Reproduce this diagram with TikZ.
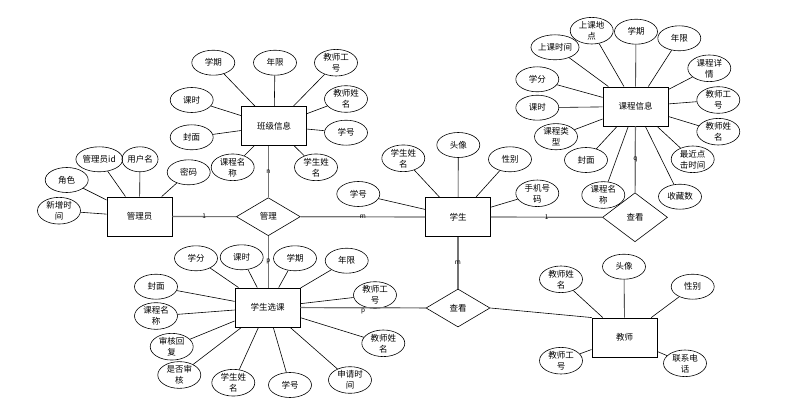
\documentclass[tikz,border=0pt]{standalone}
\usepackage{fontspec}
\setmainfont{Noto Sans CJK SC}
\usepackage{tikz}
\usetikzlibrary{shapes.geometric}
\tikzset{
  ent/.style  = {draw, line width=0.9pt, minimum width=65pt, minimum height=39pt, inner sep=0pt, font=\fontsize{8.5}{11}\selectfont},
  attr/.style = {draw, ellipse, line width=0.6pt, minimum width=43pt, minimum height=25pt, inner sep=0pt, align=center, font=\fontsize{8.5}{11}\selectfont},
  rel/.style  = {draw, diamond, line width=0.6pt, minimum width=64pt, minimum height=38pt, inner sep=0pt, font=\fontsize{8.5}{11}\selectfont},
  link/.style = {line width=0.6pt, draw=black},
  conn/.style = {line width=1.2pt, draw=black!55},
  card/.style = {font=\fontsize{6.5}{7}\selectfont, inner sep=0pt},
}
\begin{document}
\begin{tikzpicture}[x=1pt,y=-1pt]
  \useasboundingbox (0,0) rectangle (806,401);
  % entities
  \node[ent] (admin)   at (139.5,216.5) {管理员};
  \node[ent] (cls)     at (274,126)     {班级信息};
  \node[ent] (stu)     at (458,217)     {学生};
  \node[ent] (course)  at (635.5,106.5) {课程信息};
  \node[ent] (sel)     at (267.5,307.5) {学生选课};
  \node[ent] (teacher) at (624.5,337.5) {教师};
  % relations
  \node[rel] (mg)  at (268.3,216.7) {管理};
  \node[rel, minimum width=65pt, minimum height=49pt] (ck1) at (635,217.3) {查看};
  \node[rel] (ck2) at (458,308) {查看};
  % admin attributes
  \node[attr] (a-role) at (66.7,180)   {角色};
  \node[attr] (a-new)  at (59,210.7)   {新增时\\间};
  \node[attr] (a-id)   at (99.3,159.3) {管理员id};
  \node[attr, minimum width=36pt] (a-user) at (140,159.3) {用户名};
  \node[attr] (a-pwd)  at (188.7,172.3) {密码};
  % class attributes
  \node[attr] (c-term)  at (213.3,62.7) {学期};
  \node[attr] (c-years) at (275,62.7)   {年限};
  \node[attr] (c-tid)   at (336,62.7)   {教师工\\号};
  \node[attr] (c-hours) at (191.7,100)  {课时};
  \node[attr] (c-tname) at (346,99)     {教师姓\\名};
  \node[attr] (c-cover) at (191.7,137.3) {封面};
  \node[attr] (c-sid)   at (346,132.7)  {学号};
  \node[attr] (c-cname) at (232.7,167.3) {课程名\\称};
  \node[attr] (c-sname) at (316,167.3)  {学生姓\\名};
  % student attributes
  \node[attr] (s-sname)  at (403.3,158.3) {学生姓\\名};
  \node[attr] (s-avatar) at (458.3,145)   {头像};
  \node[attr] (s-sex)    at (510,159.3)   {性别};
  \node[attr] (s-sid)    at (358.3,194)   {学号};
  \node[attr] (s-phone)  at (537.3,193.3) {手机号\\码};
  % course attributes
  \node[attr] (k-place)  at (591.7,30.7)  {上课地\\点};
  \node[attr] (k-term)   at (636,31.7)    {学期};
  \node[attr] (k-years)  at (679.3,38.3)  {年限};
  \node[attr] (k-time)   at (555,47.3)    {上课时间};
  \node[attr] (k-detail) at (709.3,68.3)  {课程详\\情};
  \node[attr] (k-credit) at (537.3,79.3)  {学分};
  \node[attr] (k-tid)    at (718.3,100)   {教师工\\号};
  \node[attr] (k-hours)  at (537.3,107.7) {课时};
  \node[attr] (k-type)   at (556,136.7)   {课程类\\型};
  \node[attr] (k-tname)  at (718.3,131.7) {教师姓\\名};
  \node[attr] (k-cover)  at (586,160)     {封面};
  \node[attr] (k-click)  at (692.7,159.3) {最近点\\击时间};
  \node[attr] (k-cname)  at (603.3,195)   {课程名\\称};
  \node[attr] (k-fav)    at (680,196.7)   {收藏数};
  % selection attributes
  \node[attr] (x-credit) at (196,258.3)   {学分};
  \node[attr] (x-hours)  at (241.7,257.3) {课时};
  \node[attr] (x-term)   at (295,258.3)   {学期};
  \node[attr] (x-years)  at (346.7,260.7) {年限};
  \node[attr] (x-cover)  at (156,286.7)   {封面};
  \node[attr] (x-tid)    at (375,295)     {教师工\\号};
  \node[attr] (x-cname)  at (156,316)     {课程名\\称};
  \node[attr] (x-reply)  at (171.7,346.7) {审核回\\复};
  \node[attr] (x-tname)  at (383.3,343.3) {教师姓\\名};
  \node[attr] (x-audit)  at (179.3,375)   {是否审\\核};
  \node[attr] (x-sname)  at (233.3,382.7) {学生姓\\名};
  \node[attr] (x-sid)    at (290,385)     {学号};
  \node[attr] (x-apply)  at (350,380)     {申请时\\间};
  % teacher attributes
  \node[attr] (t-tname)  at (561,279.3)   {教师姓\\名};
  \node[attr] (t-avatar) at (624,266.7)   {头像};
  \node[attr] (t-sex)    at (692.7,286.7) {性别};
  \node[attr] (t-tid)    at (561,360.7)   {教师工\\号};
  \node[attr] (t-phone)  at (685,363.3)   {联系电\\话};
  % attribute links
  \foreach \a in {a-role,a-new,a-id,a-user,a-pwd}
    \draw[link] (admin) -- (\a);
  \foreach \a in {c-term,c-years,c-tid,c-hours,c-tname,c-cover,c-sid,c-cname,c-sname}
    \draw[link] (cls) -- (\a);
  \foreach \a in {s-sname,s-avatar,s-sex,s-sid,s-phone}
    \draw[link] (stu) -- (\a);
  \foreach \a in {k-place,k-term,k-years,k-time,k-detail,k-credit,k-tid,k-hours,k-type,k-tname,k-cover,k-click,k-cname,k-fav}
    \draw[link] (course) -- (\a);
  \foreach \a in {x-credit,x-hours,x-term,x-years,x-cover,x-tid,x-cname,x-reply,x-tname,x-audit,x-sname,x-sid,x-apply}
    \draw[link] (sel) -- (\a);
  \foreach \a in {t-tname,t-avatar,t-sex,t-tid,t-phone}
    \draw[link] (teacher) -- (\a);
  % relation links
  \draw[conn] (admin) -- node[card]{1} (mg);
  \draw[conn] (mg) -- node[card]{m} (stu);
  \draw[conn] (cls.south -| mg.north) -- node[card]{n} (mg.north);
  \draw[conn] (mg.south) -- node[card]{p} (sel.north -| mg.south);
  \draw[conn] (stu) -- node[card]{1} (ck1);
  \draw[conn] (course) -- node[card]{q} (ck1);
  \draw[conn] (stu) -- node[card]{m} (ck2);
  \draw[conn] (sel) -- node[card, below=1pt]{p} (ck2);
  \draw[link] (ck2.east) -- (teacher.north west);
\end{tikzpicture}
\end{document}
